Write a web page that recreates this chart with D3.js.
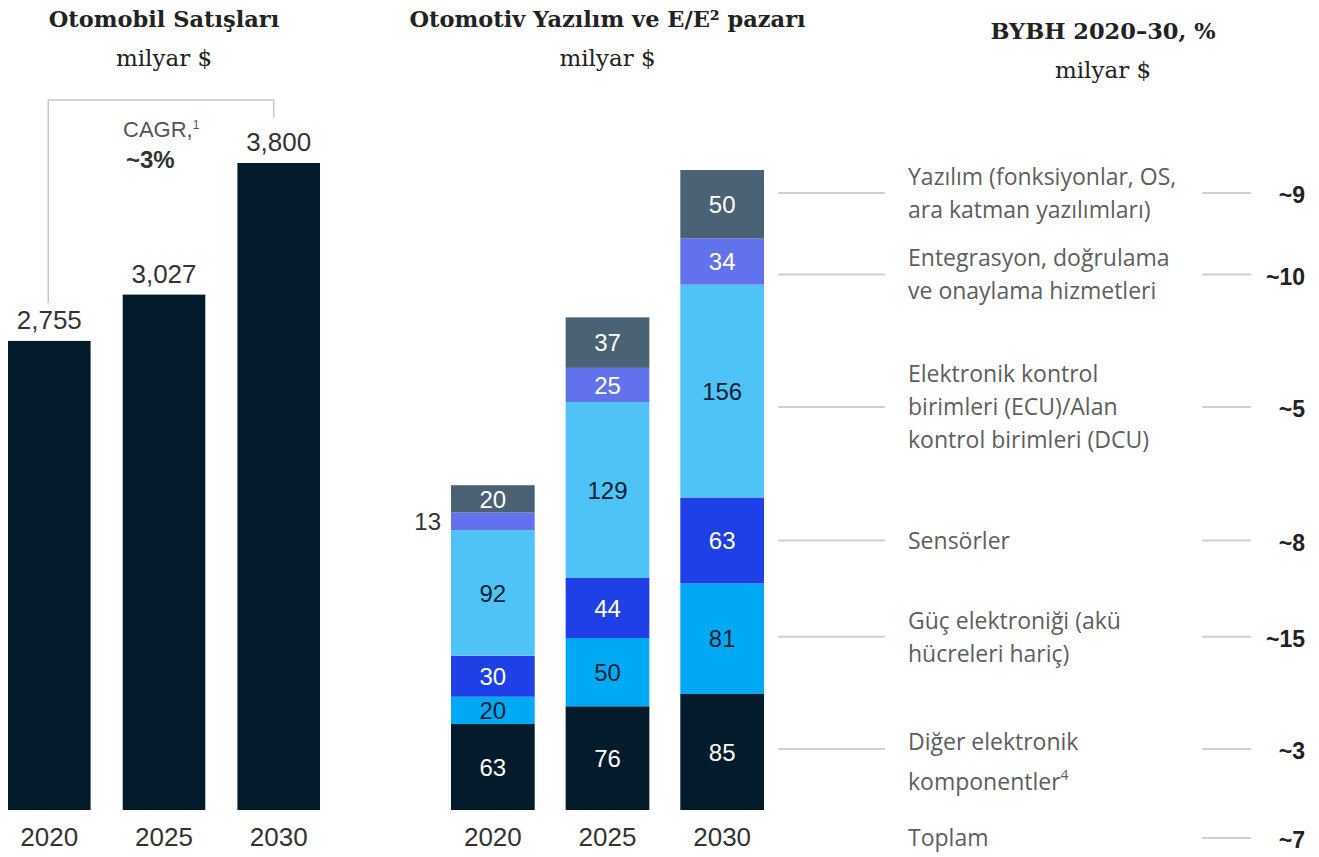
<!DOCTYPE html>
<html>
<head>
<meta charset="utf-8">
<script src="https://cdn.jsdelivr.net/npm/d3@7"></script>
<style>
  body { margin: 0; background: #fff; }
  svg { display: block; }
</style>
</head>
<body>
<svg id="chart" width="1319" height="857"></svg>
<script>
// ---- data ----
var years = ["2020", "2025", "2030"];
var carSales = [2755, 3027, 3800];
var carSalesLabels = ["2,755", "3,027", "3,800"];

// stacked segments, bottom to top
var segments = ["Diğer", "Güç", "Sensörler", "ECU", "Entegrasyon", "Yazılım"];
var diger = [63, 76, 85];
var guc = [20, 50, 81];
var sensorler = [30, 44, 63];
var ecu = [92, 129, 156];
var entegrasyon = [13, 25, 34];
var yazilim = [20, 37, 50];
var totals = ["238", "362", "469"];
var totalNotes = ["", "3", ""];

var legendLabels = [
  ["Diğer elektronik", "komponentler"],
  ["Güç elektroniği (akü", "hücreleri hariç)"],
  ["Sensörler"],
  ["Elektronik kontrol", "birimleri (ECU)/Alan", "kontrol birimleri (DCU)"],
  ["Entegrasyon, doğrulama", "ve onaylama hizmetleri"],
  ["Yazılım (fonksiyonlar, OS,", "ara katman yazılımları)"]
];
var cagrValues = ["~3", "~15", "~8", "~5", "~10", "~9"];
var totalCagr = "~7";

var colors = ["#041b2b", "#00a9f4", "#1f40e6", "#4fc3f6", "#6272ec", "#4b6274"];
var textColors = ["#fff", "#0a2233", "#fff", "#0a2233", "#fff", "#fff"];

var svg = d3.select("#chart");
var numFont = "'Liberation Sans', Arial, sans-serif";
var serif = "'DejaVu Serif', serif";
var sans = "'Open Sans', 'Noto Sans', sans-serif";
var base = 810;

// ---- left: car sales ----
var x1 = d3.scaleBand().domain(years).range([8, 320]).paddingInner(0.28).paddingOuter(0);
var y1 = d3.scaleLinear().domain([0, 3800]).range([base, 163]);

var left = svg.append("g");
left.selectAll("rect")
  .data(years)
  .join("rect")
  .attr("x", d => x1(d))
  .attr("y", (d, i) => y1(carSales[i]))
  .attr("width", x1.bandwidth())
  .attr("height", (d, i) => base - y1(carSales[i]))
  .attr("fill", colors[0]);

left.selectAll(".val")
  .data(years)
  .join("text")
  .attr("class", "val")
  .attr("x", d => x1(d) + x1.bandwidth() / 2)
  .attr("y", (d, i) => y1(carSales[i]) - 12)
  .attr("text-anchor", "middle")
  .style("font-family", numFont)
  .style("font-size", "26px")
  .style("fill", "#333")
  .text((d, i) => carSalesLabels[i]);

// bracket for CAGR
var bx0 = x1(years[0]) + x1.bandwidth() / 2 - 1;
var bx1 = x1(years[2]) + x1.bandwidth() / 2 - 5;
left.append("path")
  .attr("d", `M${bx0},${y1(carSales[0]) - 38}V100H${bx1}V${y1(carSales[2]) - 45}`)
  .attr("fill", "none")
  .attr("stroke", "#c8c8c8")
  .attr("stroke-width", 1.5);

var cagrT = left.append("text")
  .attr("x", 123).attr("y", 137)
  .style("font-family", numFont)
  .style("font-size", "22px")
  .style("fill", "#555");
cagrT.append("tspan").text("CAGR,");
cagrT.append("tspan").attr("dy", -8).style("font-size", "12px").text("1");
left.append("text")
  .attr("x", 126).attr("y", 168)
  .style("font-family", numFont)
  .style("font-size", "24px")
  .style("font-weight", "bold")
  .style("fill", "#333")
  .text("~3%");

// ---- middle: stacked ----
var x2 = d3.scaleBand().domain(years).range([451, 764]).paddingInner(0.27).paddingOuter(0);
var y2 = d3.scaleLinear().domain([0, 469]).range([base, 170]);

var seriesArrays = [diger, guc, sensorler, ecu, entegrasyon, yazilim];
var table = years.map((yr, i) => {
  var row = { year: yr };
  segments.forEach((s, k) => row[s] = seriesArrays[k][i]);
  return row;
});
var stack = d3.stack().keys(segments)(table);

var mid = svg.append("g");
var layers = mid.selectAll(".layer")
  .data(stack)
  .join("g")
  .attr("class", "layer");

layers.selectAll("rect")
  .data(d => d)
  .join("rect")
  .attr("x", d => x2(d.data.year))
  .attr("y", d => y2(d[1]))
  .attr("width", x2.bandwidth())
  .attr("height", d => y2(d[0]) - y2(d[1]))
  .attr("fill", function () { return colors[d3.select(this.parentNode).datum().index]; });

layers.selectAll("text")
  .data(d => d.map(p => ({ p: p, k: d.index })))
  .join("text")
  .attr("x", d => {
    var h = y2(d.p[0]) - y2(d.p[1]);
    return h < 20 ? x2(d.p.data.year) - 10 : x2(d.p.data.year) + x2.bandwidth() / 2;
  })
  .attr("y", d => (y2(d.p[0]) + y2(d.p[1])) / 2)
  .attr("dy", "0.36em")
  .attr("text-anchor", d => (y2(d.p[0]) - y2(d.p[1])) < 20 ? "end" : "middle")
  .style("font-family", numFont)
  .style("font-size", "24px")
  .style("fill", d => (y2(d.p[0]) - y2(d.p[1])) < 20 ? "#333" : textColors[d.k])
  .text(d => d.p[1] - d.p[0]);

var top = stack[stack.length - 1];
var totT = mid.selectAll(".tot")
  .data(top)
  .join("text")
  .attr("class", "tot")
  .attr("x", d => x2(d.data.year) + x2.bandwidth() / 2)
  .attr("y", (d, i) => y2(d[1]) - 10)
  .attr("text-anchor", "middle")
  .style("font-family", numFont)
  .style("font-size", "26px")
  .style("fill", "#333");
totT.append("tspan").text((d, i) => totals[i]);
totT.append("tspan").attr("dy", -10).style("font-size", "13px").text((d, i) => totalNotes[i]);

// year labels
[x1, x2].forEach(function (xs) {
  svg.append("g").selectAll("text")
    .data(years)
    .join("text")
    .attr("x", d => xs(d) + xs.bandwidth() / 2)
    .attr("y", 846)
    .attr("text-anchor", "middle")
    .style("font-family", numFont)
    .style("font-size", "26px")
    .style("fill", "#333")
    .text(d => d);
});

// ---- right: legend + CAGR ----
var last = stack.map(s => s[2]);
var rowNudge = [-3, -2, 0, 16, 13, -11];
var rowY = last.map((p, k) => (y2(p[0]) + y2(p[1])) / 2 + rowNudge[k]);

var right = svg.append("g");
right.selectAll(".c1")
  .data(rowY)
  .join("line")
  .attr("class", "c1")
  .attr("x1", 778).attr("x2", 885)
  .attr("y1", d => d).attr("y2", d => d)
  .attr("stroke", "#d0d0d0").attr("stroke-width", 2);

var allRows = rowY.concat([838]);
right.selectAll(".c2")
  .data(allRows)
  .join("line")
  .attr("class", "c2")
  .attr("x1", 1202).attr("x2", 1251)
  .attr("y1", d => d).attr("y2", d => d)
  .attr("stroke", "#d0d0d0").attr("stroke-width", 2);

right.selectAll(".cv")
  .data(cagrValues.concat([totalCagr]))
  .join("text")
  .attr("class", "cv")
  .attr("x", 1305)
  .attr("y", (d, i) => allRows[i] + 2)
  .attr("dy", "0.36em")
  .attr("text-anchor", "end")
  .style("font-family", numFont)
  .style("font-size", "23px")
  .style("font-weight", "bold")
  .style("fill", "#222")
  .text(d => d);

legendLabels.forEach(function (lines, k) {
  var lh = k === 0 ? 40 : 33;
  var t = right.append("text")
    .attr("x", 908)
    .attr("y", rowY[k] - (k === 0 ? 7 : (lines.length - 1) * 16.5))
    .style("font-family", sans)
    .style("font-size", "23px")
    .style("fill", "#5e5e5e");
  lines.forEach(function (ln, j) {
    t.append("tspan").attr("x", 908).attr("dy", j === 0 ? "0.36em" : lh).text(ln);
  });
  if (k === 0) {
    t.append("tspan").attr("dy", -10).style("font-size", "14px").text("4");
  }
});
right.append("text")
  .attr("x", 908).attr("y", 838).attr("dy", "0.36em")
  .style("font-family", sans)
  .style("font-size", "23px")
  .style("fill", "#5e5e5e")
  .text("Toplam");

// ---- titles ----
var titles = [
  { x: (x1.range()[0] + x1.range()[1]) / 2, y: 27, t: "Otomobil Satışları", s: "milyar $" },
  { x: (x2.range()[0] + x2.range()[1]) / 2, y: 27, t: "Otomotiv Yazılım ve E/E² pazarı", s: "milyar $" },
  { x: 1103, y: 39, t: "BYBH 2020–30, %", s: "milyar $" }
];
titles.forEach(function (d) {
  svg.append("text")
    .attr("x", d.x).attr("y", d.y)
    .attr("text-anchor", "middle")
    .style("font-family", serif)
    .style("font-size", "22.5px")
    .style("font-weight", "bold")
    .style("fill", "#222")
    .text(d.t);
  svg.append("text")
    .attr("x", d.x).attr("y", d.y + 39)
    .attr("text-anchor", "middle")
    .style("font-family", serif)
    .style("font-size", "23px")
    .style("fill", "#222")
    .text(d.s);
});
</script>
</body>
</html>
